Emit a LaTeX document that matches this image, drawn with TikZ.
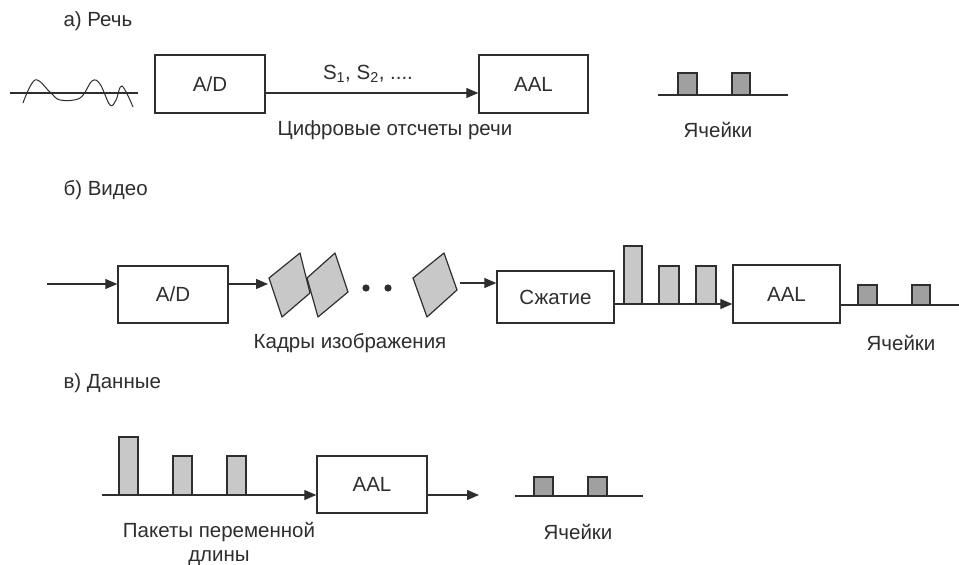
\documentclass[tikz,border=0pt]{standalone}
\usepackage{fontspec}
\setmainfont{Liberation Sans}
\usetikzlibrary{arrows.meta}
\definecolor{ink}{HTML}{2E2E2E}
\definecolor{barfill}{HTML}{C8C8C8}
\definecolor{cellfill}{HTML}{A0A0A0}
\tikzset{
  every node/.style={font=\fontsize{20.5}{24}\selectfont, text=ink},
  stagebox/.style={draw=ink, line width=1.4pt, fill=white, inner sep=0pt},
  link/.style={draw=ink, line width=1.2pt},
  arr/.style={link, -{Triangle[length=12pt,width=10pt]}},
  bar/.style={draw=ink, line width=1.2pt, fill=barfill},
  cell/.style={draw=ink, line width=1.2pt, fill=cellfill},
  frame/.style={draw=ink, line width=1.2pt, fill=barfill, line join=round},
  title/.style={anchor=west},
}
\begin{document}
\begin{tikzpicture}[x=1pt, y=-1pt]
\useasboundingbox[fill=white] (0,0) rectangle (959,565);

% ---------- а) Речь ----------
\node[title] (ta) at (60,21) {а) Речь};
\draw[link] (10,93) -- (138,93);
\draw[link, line width=1pt] plot[smooth, tension=0.6] coordinates {(23,103) (35,80) (50,92) (60,100) (80,98) (92,81) (100,84) (110,105) (116,100) (122,86) (133,107)};
\node[stagebox, minimum width=110pt, minimum height=58pt] (ada) at (210,84) {A/D};
\node[stagebox, minimum width=109pt, minimum height=58pt] (aala) at (533.5,84) {AAL};
\coordinate (ra) at (0,93);
\draw[arr] (ada.east |- ra) -- (aala.west |- ra);
\node (sa) at (368,74) {S\textsubscript{1}, S\textsubscript{2}, ....};
\node (da) at (395,130) {Цифровые отсчеты речи};
\draw[link] (658,95) -- (788,95);
\draw[cell] (678,73) rectangle (697,95);
\draw[cell] (732,73) rectangle (750,95);
\node (ca) at (718,130) {Ячейки};

% ---------- б) Видео ----------
\node[title] (tb) at (60,190) {б) Видео};
\node[stagebox, minimum width=110pt, minimum height=57pt] (adb) at (173,294.5) {A/D};
\node[stagebox, minimum width=117pt, minimum height=52pt] (szh) at (555.5,297) {Сжатие};
\node[stagebox, minimum width=107pt, minimum height=58pt] (aalb) at (786.5,294) {AAL};
\coordinate (inb) at (47,284);
\draw[arr] (inb) -- (adb.west |- inb);
% image frames
\draw[frame] (269,278) -- (300,253) -- (310,293) -- (282,317) -- cycle;
\draw[frame] (307,278) -- (335,253) -- (348,292) -- (318,317) -- cycle;
\draw[frame] (413,278) -- (444,253) -- (457,290) -- (427,317) -- cycle;
\fill[ink] (366,288) circle (3.6pt) (388,288) circle (3.6pt);
\coordinate (f1) at (268,284);
\draw[arr] (adb.east |- f1) -- (f1);
\coordinate (f3) at (460,283);
\draw[arr] (f3) -- (szh.west |- f3);
\coordinate (rb) at (0,304);
\draw[arr] (szh.east |- rb) -- (aalb.west |- rb);
\draw[bar] (624,246) rectangle (642,304);
\draw[bar] (659,266) rectangle (679,304);
\draw[bar] (696,266) rectangle (716,304);
\coordinate (endb) at (959,305);
\draw[link] (aalb.east |- endb) -- (endb);
\draw[cell] (858,285) rectangle (877,305);
\draw[cell] (912,285) rectangle (930,305);
\node (kb) at (350,343) {Кадры изображения};
\node (cb) at (901,343) {Ячейки};

% ---------- в) Данные ----------
\node[title] (tc) at (60,383) {в) Данные};
\node[stagebox, minimum width=110pt, minimum height=57pt] (aalc) at (372,484.5) {AAL};
\coordinate (startc) at (102,495);
\draw[arr] (startc) -- (aalc.west |- startc);
\draw[bar] (119,437) rectangle (138,495);
\draw[bar] (173,456) rectangle (192,495);
\draw[bar] (227,456) rectangle (246,495);
\coordinate (outc) at (479,495);
\draw[arr] (aalc.east |- outc) -- (outc);
\draw[link] (515,496) -- (643,496);
\draw[cell] (534,477) rectangle (553,496);
\draw[cell] (588,477) rectangle (607,496);
\node[align=center] (pc) at (219,544) {Пакеты переменной\\длины};
\node (cc) at (578,532) {Ячейки};
\end{tikzpicture}
\end{document}
